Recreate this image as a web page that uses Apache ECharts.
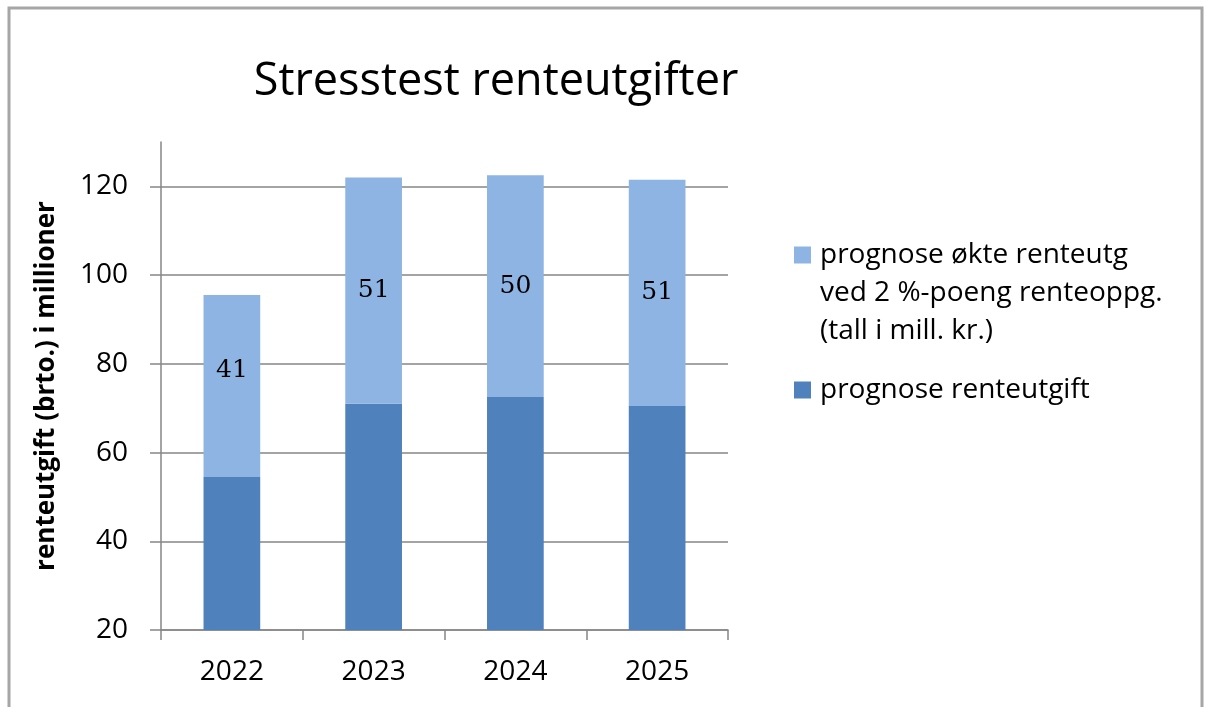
<!DOCTYPE html>
<html>
<head>
<meta charset="utf-8">
<script src="https://cdn.jsdelivr.net/npm/echarts@6/dist/echarts.min.js"></script>
<style>html,body{margin:0;padding:0;background:#fff;}#c{width:1205px;height:707px;}</style>
</head>
<body>
<div id="c"></div>
<script>
const categories = ['2022', '2023', '2024', '2025'];
const baseValues = [54.5, 71, 72.5, 70.5];
const increaseValues = [41, 51, 50, 51];
const yTicks = [20, 40, 60, 80, 100, 120];
const seriesNames = ['prognose renteutgift', 'prognose økte renteutg\nved 2 %-poeng renteoppg.\n(tall i mill. kr.)'];
const titleText = 'Stresstest renteutgifter';
const yAxisName = 'renteutgift (brto.) i millioner';

const chart = echarts.init(document.getElementById('c'));
const gray = '#868686';
const font = 'Open Sans';
chart.setOption({
  animation: false,
  backgroundColor: '#fff',
  title: {
    text: titleText,
    left: 491, top: 55, textAlign: 'center',
    textStyle: { fontFamily: font, fontWeight: 'normal', fontSize: 45, color: '#000' }
  },
  legend: [
    {
      data: [seriesNames[1]], orient: 'vertical', left: 794, top: 160, padding: 0,
      itemWidth: 17, itemHeight: 17, icon: 'rect',
      formatter: name => '\n\n' + name,
      textStyle: { fontFamily: font, fontSize: 28, color: '#000', lineHeight: 38, padding: [0, 0, 0, 4] }
    },
    {
      data: [seriesNames[0]], orient: 'vertical', left: 794, top: 371, padding: 0,
      itemWidth: 17, itemHeight: 17, icon: 'rect',
      textStyle: { fontFamily: font, fontSize: 28, color: '#000', lineHeight: 38, padding: [0, 0, 0, 4] }
    }
  ],
  grid: { left: 161, right: 477, top: 142, bottom: 77 },
  xAxis: {
    type: 'category', data: categories,
    axisLine: { lineStyle: { color: gray, width: 1.5 } },
    axisTick: { show: true, length: 10, lineStyle: { color: gray, width: 1.5 } },
    axisLabel: { fontFamily: font, fontSize: 28, color: '#000', margin: 28 }
  },
  yAxis: {
    type: 'value', min: 20, max: 130, interval: 20,
    name: yAxisName, nameLocation: 'middle', nameRotate: 90, nameGap: 101,
    nameTextStyle: { fontFamily: font, fontWeight: 'bold', fontSize: 26, color: '#000' },
    axisLine: { show: true, lineStyle: { color: gray, width: 1.5 } },
    axisTick: { show: true, length: 11, customValues: yTicks, lineStyle: { color: gray, width: 1.5 } },
    axisLabel: { customValues: yTicks, fontFamily: font, fontSize: 28, color: '#000', margin: 33 },
    splitLine: { show: true, lineStyle: { color: gray, width: 1.5 } }
  },
  series: [
    {
      name: seriesNames[0], type: 'bar', stack: 'a', barWidth: '40%',
      data: baseValues, itemStyle: { color: '#4F81BD' }
    },
    {
      name: seriesNames[1], type: 'bar', stack: 'a', barWidth: '40%',
      data: increaseValues.map((v, i) => i === 0 ? { value: v, label: { offset: [0, -16] } } : v),
      itemStyle: { color: '#8DB4E2' },
      label: {
        show: true, position: 'inside', formatter: p => Math.round(p.value),
        fontFamily: 'DejaVu Serif', fontSize: 25, color: '#000'
      }
    }
  ],
  graphic: [{
    type: 'rect', silent: true, z: 100,
    shape: { x: 9, y: 8, width: 1193, height: 720 },
    style: { fill: 'none', stroke: '#a6a6a6', lineWidth: 3 }
  }]
});
</script>
</body>
</html>
